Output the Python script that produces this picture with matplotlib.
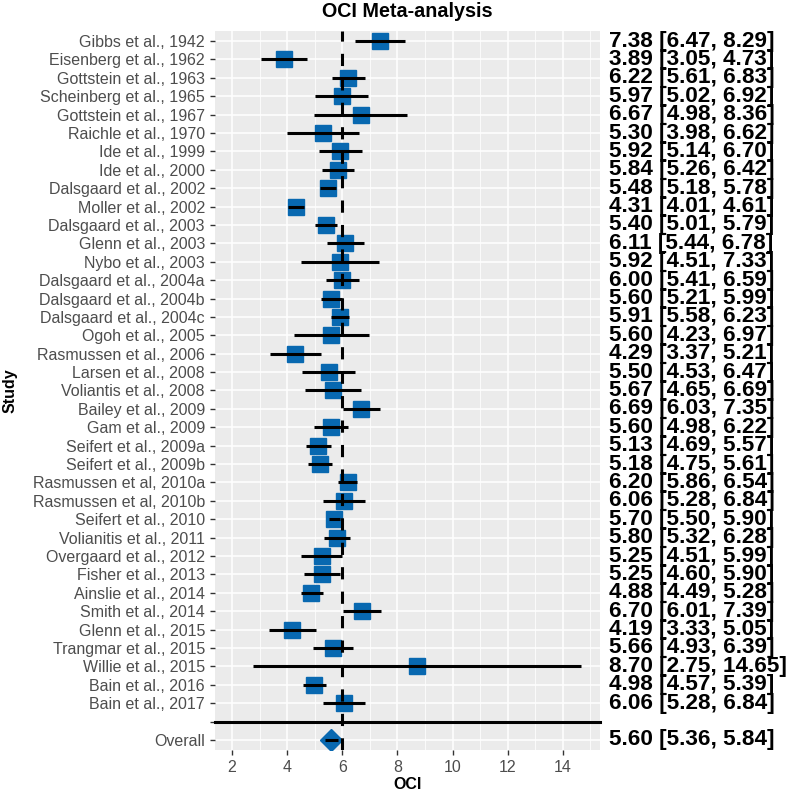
import matplotlib
matplotlib.use("Agg")
import matplotlib.pyplot as plt
import matplotlib.transforms as mtransforms

plt.rcParams['font.family'] = ['Liberation Sans', 'DejaVu Sans']

# Studies, effect and confidence interval (OCI)
studies = [
    "Gibbs et al., 1942", "Eisenberg et al., 1962", "Gottstein et al., 1963",
    "Scheinberg et al., 1965", "Gottstein et al., 1967", "Raichle et al., 1970",
    "Ide et al., 1999", "Ide et al., 2000", "Dalsgaard et al., 2002",
    "Moller et al., 2002", "Dalsgaard et al., 2003", "Glenn et al., 2003",
    "Nybo et al., 2003", "Dalsgaard et al., 2004a", "Dalsgaard et al., 2004b",
    "Dalsgaard et al., 2004c", "Ogoh et al., 2005", "Rasmussen et al., 2006",
    "Larsen et al., 2008", "Voliantis et al., 2008", "Bailey et al., 2009",
    "Gam et al., 2009", "Seifert et al., 2009a", "Seifert et al., 2009b",
    "Rasmussen et al, 2010a", "Rasmussen et al, 2010b", "Seifert et al., 2010",
    "Volianitis et al., 2011", "Overgaard et al., 2012", "Fisher et al., 2013",
    "Ainslie et al., 2014", "Smith et al., 2014", "Glenn et al., 2015",
    "Trangmar et al., 2015", "Willie et al., 2015", "Bain et al., 2016",
    "Bain et al., 2017",
]
est = [7.38, 3.89, 6.22, 5.97, 6.67, 5.30, 5.92, 5.84, 5.48, 4.31, 5.40, 6.11,
       5.92, 6.00, 5.60, 5.91, 5.60, 4.29, 5.50, 5.67, 6.69, 5.60, 5.13, 5.18,
       6.20, 6.06, 5.70, 5.80, 5.25, 5.25, 4.88, 6.70, 4.19, 5.66, 8.70, 4.98,
       6.06]
lo = [6.47, 3.05, 5.61, 5.02, 4.98, 3.98, 5.14, 5.26, 5.18, 4.01, 5.01, 5.44,
      4.51, 5.41, 5.21, 5.58, 4.23, 3.37, 4.53, 4.65, 6.03, 4.98, 4.69, 4.75,
      5.86, 5.28, 5.50, 5.32, 4.51, 4.60, 4.49, 6.01, 3.33, 4.93, 2.75, 4.57,
      5.28]
hi = [8.29, 4.73, 6.83, 6.92, 8.36, 6.62, 6.70, 6.42, 5.78, 4.61, 5.79, 6.78,
      7.33, 6.59, 5.99, 6.23, 6.97, 5.21, 6.47, 6.69, 7.35, 6.22, 5.57, 5.61,
      6.54, 6.84, 5.90, 6.28, 5.99, 5.90, 5.28, 7.39, 5.05, 6.39, 14.65, 5.39,
      6.84]
overall_est, overall_lo, overall_hi = 5.60, 5.36, 5.84
ref_value = 6
x_ticks = [2, 4, 6, 8, 10, 12, 14]

blue = "#0868b0"
fig = plt.figure(figsize=(7.9, 7.92), dpi=100)
ax = fig.add_axes([0.2722, 0.053, 0.4873, 0.9079])
ax.set_facecolor("#ebebeb")

n = len(studies)
rows = list(range(1, n + 1))
sep_row = n + 1
overall_row = n + 2

# study squares and CIs
ax.plot(est, rows, "s", color=blue, markersize=11, zorder=3)
ax.hlines(rows, lo, hi, color="black", lw=2.2, zorder=4)

# overall
ax.plot([overall_est], [overall_row], "D", color=blue, markersize=11, zorder=3)
ax.hlines([overall_row], [overall_lo], [overall_hi], color="black", lw=2.2, zorder=4)

# separator and reference line
ax.axhline(sep_row, color="black", lw=2.2, zorder=4, clip_on=False)
ax.axvline(ref_value, color="black", lw=2.2, dashes=(4, 4), zorder=5)

ax.set_xlim(1.38, 15.35)
ax.set_ylim(overall_row + 0.55, 0.45)
ax.set_xticks(x_ticks)
ax.set_xticks([3, 5, 7, 9, 11, 13, 15], minor=True)
ax.set_yticks(rows + [sep_row, overall_row])
ax.set_yticklabels(studies + ["", "Overall"])
ax.grid(True, which="major", color="white", lw=1.1, zorder=0)
ax.grid(True, which="minor", axis="x", color="white", lw=0.55, zorder=0)
ax.set_axisbelow(True)
for s in ax.spines.values():
    s.set_visible(False)
ax.tick_params(axis="both", which="major", colors="#333333", length=3.8,
               width=1, labelsize=11.5, labelcolor="#4d4d4d")
ax.tick_params(axis="x", which="minor", length=0)

ax.set_xlabel("OCI", fontsize=11.5, fontweight="bold", labelpad=1)
ax.set_ylabel("Study", fontsize=11.5, fontweight="bold", labelpad=11)
ax.set_title("OCI Meta-analysis", fontsize=14.2, fontweight="bold", pad=10)

# right-hand text column
trans = mtransforms.blended_transform_factory(fig.transFigure, ax.transData)
for r, e, l, h in zip(rows, est, lo, hi):
    ax.text(0.771, r, f"{e:.2f} [{l:.2f}, {h:.2f}]", transform=trans,
            fontsize=16.2, fontweight="bold", va="center", ha="left", clip_on=False)
ax.text(0.771, overall_row,
        f"{overall_est:.2f} [{overall_lo:.2f}, {overall_hi:.2f}]",
        transform=trans, fontsize=16.2, fontweight="bold", va="center",
        ha="left", clip_on=False)

fig.savefig("out.png", dpi=100)
